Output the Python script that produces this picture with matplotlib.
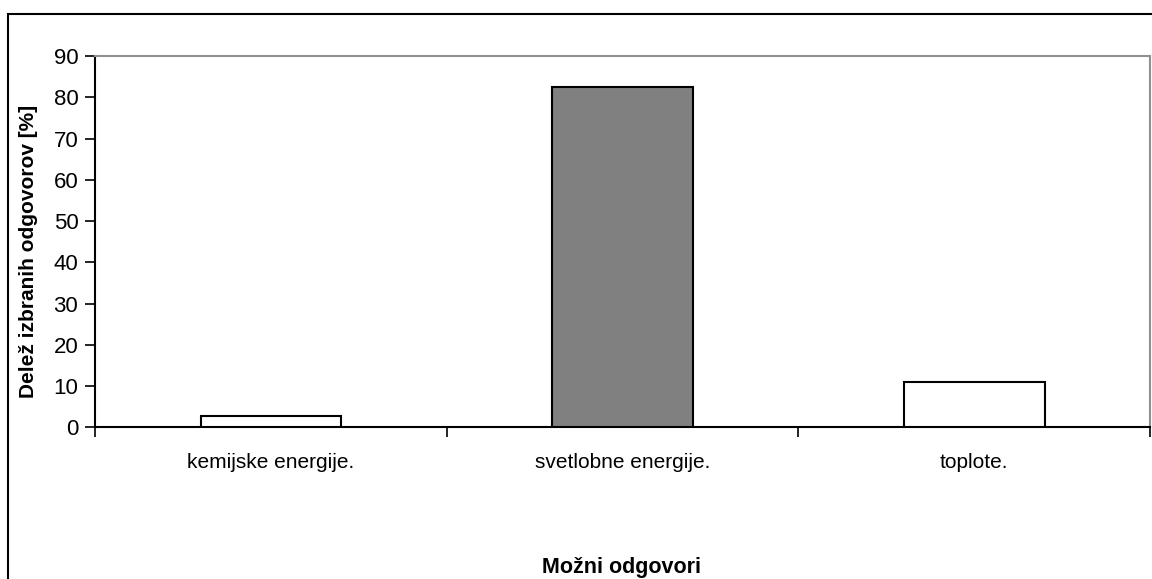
import numpy as np
import matplotlib.pyplot as plt
from matplotlib.patches import Rectangle

plt.rcParams['font.family'] = ['Liberation Sans', 'DejaVu Sans']

# data
categories = ['kemijske energije.', 'svetlobne energije.', 'toplote.']
values = [2.8, 82.5, 11.0]
colors = ['white', '#808080', 'white']

fig = plt.figure(figsize=(11.52, 5.79), dpi=100)
ax = fig.add_axes([95/1152, 1 - 427.3/579, 1055/1152, (427.3 - 56)/579])

x = np.arange(len(categories))
ax.bar(x, values, width=0.4, color=colors, edgecolor='black', linewidth=1.5, zorder=3)

ax.set_xlim(-0.5, len(categories) - 0.5)
ax.set_ylim(0, 90)
ax.set_yticks(np.arange(0, 91, 10))

# labels at category centers, tick marks at category boundaries
ax.set_xticks(x)
ax.set_xticklabels(categories)
ax.set_xticks(np.arange(-0.5, len(categories), 1), minor=True)
ax.tick_params(axis='x', which='major', length=0, pad=18.5, labelsize=15)
ax.tick_params(axis='x', which='minor', length=7, width=1.2, direction='out')
ax.tick_params(axis='y', length=7, width=1.2, direction='out', labelsize=16, pad=5)

for s in ['left', 'bottom']:
    ax.spines[s].set_linewidth(1.5)
    ax.spines[s].set_color('black')
for s in ['top', 'right']:
    ax.spines[s].set_linewidth(1.5)
    ax.spines[s].set_color('#909090')

fig.text(29/1152, 1 - 251/579, 'Delež izbranih odgovorov [%]', rotation=90,
         ha='center', va='center', fontsize=15, fontweight='bold')
fig.text(622/1152, 1 - 568/579, 'Možni odgovori', ha='center', va='center',
         fontsize=15.5, fontweight='bold')

# outer chart border (runs off the right and bottom edge)
fig.patches.append(Rectangle((8/1152, -0.1), 2, 1.1 - 14/579, transform=fig.transFigure,
                             fill=False, edgecolor='black', linewidth=1.5))

fig.savefig('out.png', dpi=100)
